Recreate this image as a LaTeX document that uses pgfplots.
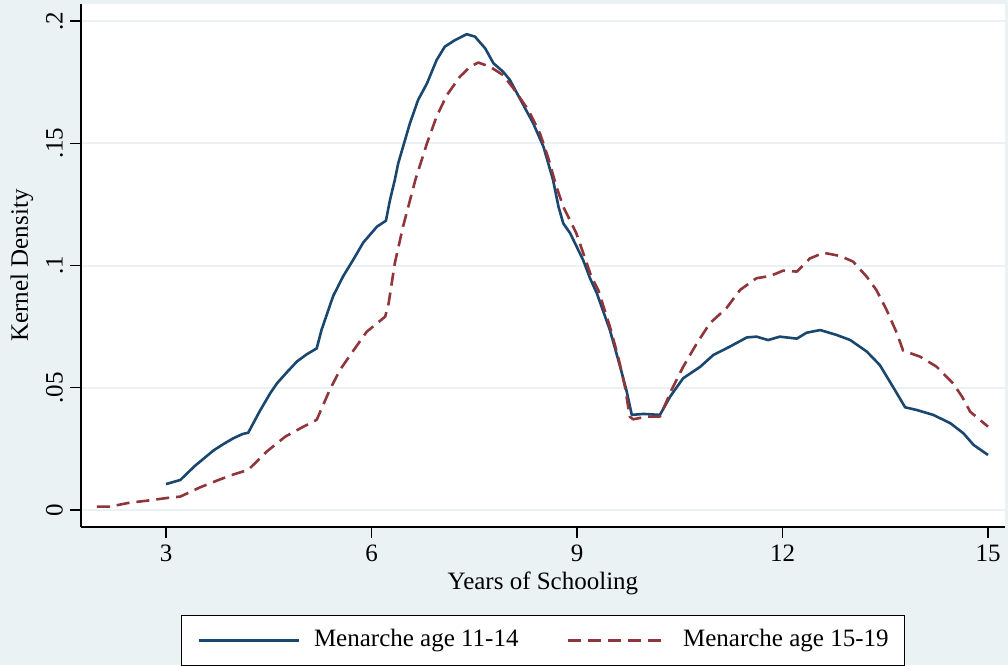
\documentclass[border=0pt]{standalone}
\usepackage{fontspec}
\setmainfont{Liberation Serif}
\usepackage{pgfplots}
\pgfplotsset{compat=1.18}
\definecolor{stnavy}{RGB}{26,71,111}
\definecolor{stmaroon}{RGB}{144,53,59}
\definecolor{stbg}{RGB}{234,242,243}

\begin{document}
\begin{tikzpicture}[font=\fontsize{12.5}{15}\selectfont]
% Stata-like outer background
\fill[stbg] (-40.5pt,-69pt) rectangle (463.5pt,263.5pt);
\begin{axis}[
  at={(0,0)}, anchor=south west,
  scale only axis, width=462pt, height=261.5pt,
  xmin=1.759, xmax=15.248, ymin=-0.00695, ymax=0.20695,
  axis x line*=bottom, axis y line*=left,
  axis line style={line width=0.6pt, black},
  axis background/.style={fill=white},
  tick align=outside, major tick length=5.5pt,
  tick style={line width=0.6pt, black},
  xtick={3,6,9,12,15}, xticklabels={3,6,9,12,15},
  ytick={0,0.05,0.1,0.15,0.2}, yticklabels={0,.05,.1,.15,.2},
  yticklabel style={rotate=90, anchor=south},
  ymajorgrids, grid style={stbg, line width=1pt},
  xlabel={Years of Schooling}, ylabel={Kernel Density},
  xlabel style={at={(axis description cs:0.5,-0.1071)}, anchor=center},
  ylabel style={at={(axis description cs:-0.0639,0.5)}, anchor=center},
  legend columns=2,
  legend image code/.code={\draw[#1] (0pt,0pt) -- (50pt,0pt);},
  legend style={at={(axis description cs:0.5,-0.1683)}, anchor=north,
    draw=black, line width=0.5pt, fill=white,
    inner xsep=8pt, inner ysep=6.5pt,
    nodes={inner sep=0pt, text height=9pt, text depth=3pt},
    /tikz/every odd column/.style={column sep=7pt},
    /tikz/every even column/.style={column sep=24pt}},
]
\addplot[stnavy, line width=1.3pt, line join=round] coordinates {
(3.00,0.0106) (3.21,0.0123) (3.42,0.0180) (3.57,0.0215) (3.70,0.0245)
(3.84,0.0270) (3.98,0.0293) (4.12,0.0311) (4.20,0.0316) (4.37,0.0405)
(4.52,0.0477) (4.62,0.0518) (4.77,0.0565) (4.91,0.0607) (5.05,0.0636)
(5.20,0.0661) (5.27,0.0736) (5.44,0.0875) (5.59,0.0958) (5.73,0.1022)
(5.88,0.1094) (6.08,0.1159) (6.21,0.1183) (6.27,0.1268) (6.34,0.1350)
(6.39,0.1418) (6.56,0.1581) (6.68,0.1677) (6.81,0.1745) (6.95,0.1840)
(7.07,0.1895) (7.22,0.1922) (7.39,0.1946) (7.51,0.1936) (7.66,0.1888)
(7.78,0.1827) (7.92,0.1793) (8.02,0.1759) (8.20,0.1665) (8.36,0.1582)
(8.51,0.1486) (8.65,0.1350) (8.73,0.1240) (8.80,0.1172) (8.90,0.1132)
(9.09,0.1022) (9.19,0.0948) (9.29,0.0886) (9.48,0.0736) (9.63,0.0586)
(9.72,0.0491) (9.80,0.0389) (9.97,0.0393) (10.21,0.0389) (10.36,0.0464)
(10.55,0.0539) (10.80,0.0586) (10.99,0.0634) (11.23,0.0668) (11.48,0.0706)
(11.62,0.0709) (11.79,0.0695) (11.96,0.0709) (12.21,0.0701) (12.35,0.0725)
(12.55,0.0736) (12.79,0.0716) (12.99,0.0695) (13.23,0.0648) (13.42,0.0593)
(13.64,0.0491) (13.79,0.0420) (13.96,0.0409) (14.20,0.0389) (14.45,0.0355)
(14.64,0.0314) (14.79,0.0266) (15.00,0.0225)
};
\addlegendentry{Menarche age 11-14}
\addplot[stmaroon, line width=1.3pt, line join=round, dash pattern=on 6.5pt off 3.5pt] coordinates {
(1.99,0.0014) (2.18,0.0014) (2.47,0.0030) (2.72,0.0038) (3.01,0.0049)
(3.21,0.0055) (3.50,0.0093) (3.74,0.0120) (3.98,0.0145) (4.20,0.0164)
(4.47,0.0239) (4.74,0.0300) (4.96,0.0334) (5.20,0.0369) (5.39,0.0491)
(5.54,0.0573) (5.73,0.0650) (5.93,0.0729) (6.20,0.0791) (6.25,0.0845)
(6.34,0.1009) (6.46,0.1159) (6.64,0.1350) (6.81,0.1500) (6.95,0.1609)
(7.10,0.1697) (7.29,0.1772) (7.44,0.1813) (7.56,0.1830) (7.73,0.1813)
(7.92,0.1779) (8.07,0.1725) (8.29,0.1636) (8.46,0.1540) (8.58,0.1440)
(8.70,0.1322) (8.80,0.1240) (8.99,0.1132) (9.21,0.0954) (9.31,0.0900)
(9.48,0.0750) (9.60,0.0627) (9.70,0.0504) (9.77,0.0382) (9.82,0.0371)
(10.02,0.0382) (10.21,0.0382) (10.38,0.0491) (10.55,0.0586) (10.75,0.0682)
(10.94,0.0764) (11.18,0.0825) (11.38,0.0900) (11.62,0.0948) (11.82,0.0957)
(12.01,0.0979) (12.21,0.0975) (12.40,0.1029) (12.60,0.1052) (12.84,0.1039)
(13.03,0.1016) (13.23,0.0954) (13.37,0.0900) (13.52,0.0818) (13.67,0.0723)
(13.76,0.0652) (14.01,0.0627) (14.25,0.0586) (14.49,0.0518) (14.62,0.0464)
(14.74,0.0402) (15.00,0.0341)
};
\addlegendentry{Menarche age 15-19}
\end{axis}
\pgfresetboundingbox
\path[use as bounding box] (-40.5pt,-69pt) rectangle (463.5pt,263.5pt);
\end{tikzpicture}
\end{document}
